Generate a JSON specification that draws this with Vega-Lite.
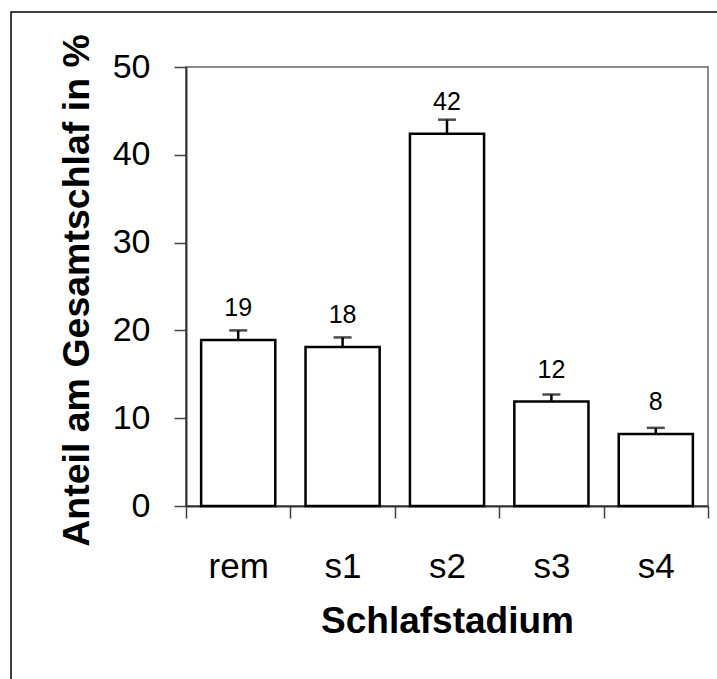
{
  "$schema": "https://vega.github.io/schema/vega-lite/v6.json",
  "autosize": {"type": "none"},
  "padding": {"left": 186, "top": 67, "right": 9, "bottom": 173},
  "width": 522,
  "height": 439,
  "background": "white",
  "config": {
    "font": "Liberation Sans",
    "view": {"stroke": "#8a8a8a", "strokeWidth": 2}
  },
  "data": {
    "values": [
      {"stadium": "rem", "anteil": 18.9, "oben": 20.0, "label": "19"},
      {"stadium": "s1", "anteil": 18.1, "oben": 19.2, "label": "18"},
      {"stadium": "s2", "anteil": 42.4, "oben": 44.0, "label": "42"},
      {"stadium": "s3", "anteil": 11.9, "oben": 12.7, "label": "12"},
      {"stadium": "s4", "anteil": 8.2, "oben": 8.9, "label": "8"}
    ]
  },
  "resolve": {"scale": {"x": "independent", "y": "independent"}},
  "layer": [
    {
      "layer": [
        {
          "mark": {"type": "bar", "fill": "white", "stroke": "black", "strokeWidth": 2.5, "width": {"band": 0.71}},
          "encoding": {
            "x": {
              "field": "stadium", "type": "nominal", "sort": null,
              "scale": {"paddingInner": 0, "paddingOuter": 0},
              "axis": {
                "title": "Schlafstadium",
                "titleFontSize": 37, "titleFontWeight": "bold", "titleColor": "black",
                "titleBaseline": "alphabetic", "titleY": 126,
                "labelAngle": 0, "labelFontSize": 35, "labelColor": "black",
                "labelBaseline": "alphabetic", "labelPadding": 59,
                "tickBand": "extent", "tickSize": 12, "tickColor": "#444", "tickWidth": 1.5,
                "domainColor": "#333", "domainWidth": 2
              }
            },
            "y": {
              "field": "anteil", "type": "quantitative",
              "scale": {"domain": [0, 50], "nice": false},
              "axis": {
                "title": "Anteil am Gesamtschlaf in %",
                "titleFontSize": 37.5, "titleFontWeight": "bold", "titleColor": "black",
                "titleAngle": 270, "titleBaseline": "alphabetic", "titleAlign": "center",
                "titleX": -98, "titleY": 223,
                "values": [0, 10, 20, 30, 40, 50],
                "labelFontSize": 34, "labelColor": "black", "labelPadding": 24,
                "tickSize": 12, "tickColor": "#444", "tickWidth": 1.5,
                "domainColor": "#333", "domainWidth": 2, "grid": false
              }
            }
          }
        },
        {
          "mark": {"type": "rule", "stroke": "black", "strokeWidth": 2.5},
          "encoding": {
            "x": {"field": "stadium", "type": "nominal", "sort": null},
            "y": {"field": "anteil", "type": "quantitative"},
            "y2": {"field": "oben"}
          }
        },
        {
          "mark": {"type": "tick", "color": "black", "size": 18, "thickness": 2.5},
          "encoding": {
            "x": {"field": "stadium", "type": "nominal", "sort": null},
            "y": {"field": "oben", "type": "quantitative"}
          }
        },
        {
          "mark": {"type": "text", "fontSize": 25, "color": "black", "baseline": "alphabetic", "dy": -24},
          "encoding": {
            "x": {"field": "stadium", "type": "nominal", "sort": null},
            "y": {"field": "anteil", "type": "quantitative"},
            "text": {"field": "label"}
          }
        }
      ]
    },
    {
      "data": {"values": [{}]},
      "mark": {"type": "rect", "fillOpacity": 0, "stroke": "black", "strokeWidth": 1.5, "clip": false},
      "encoding": {
        "x": {"datum": -0.3352, "type": "quantitative", "scale": {"domain": [0, 1], "nice": false}, "axis": null},
        "x2": {"datum": 1.2},
        "y": {"datum": 56.26, "type": "quantitative", "scale": {"domain": [0, 50], "nice": false}, "axis": null},
        "y2": {"datum": -30}
      }
    }
  ]
}
